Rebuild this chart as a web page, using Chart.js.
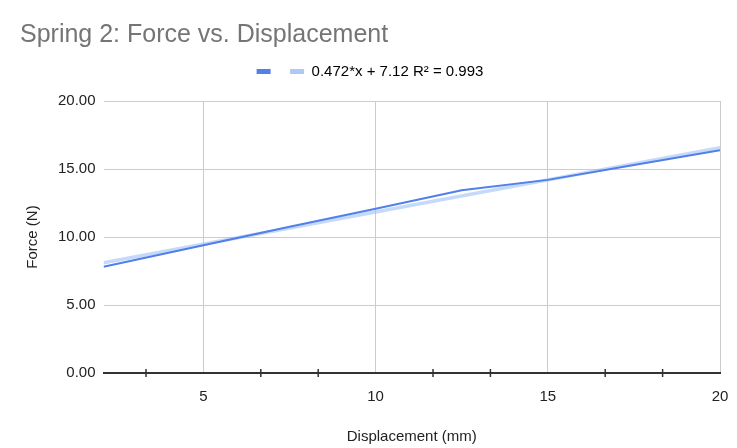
<!DOCTYPE html>
<html>
<head>
<meta charset="utf-8">
<script src="https://cdn.jsdelivr.net/npm/chart.js@4.4.1/dist/chart.umd.min.js"></script>
<style>
  html, body { margin: 0; padding: 0; background: #fff; }
  #wrap { width: 737px; height: 448px; }
</style>
</head>
<body>
<div id="wrap"><canvas id="chart" width="737" height="448"></canvas></div>
<script>
// valores
const displacement = [2.1, 5, 7.5, 10, 12.5, 15, 17.5, 20];
const force = [7.82, 9.4, 10.75, 12.08, 13.43, 14.2, 15.3, 16.38];

// linha de tendencia (extremos)
const trendX = [2.1, 20];
const trendY = [8.11, 16.56];
const trendLabel = '0.472*x + 7.12 R\u00b2 = 0.993';

const xTicks = [5, 10, 15, 20];
const yTicks = [0, 5, 10, 15, 20];

const FONT = 'Arial, "Liberation Sans", sans-serif';
const dataColor = '#5080e8';
const trendColor = 'rgba(150,185,245,0.55)';

const toPoints = (xs, ys) => xs.map((x, i) => ({ x: x, y: ys[i] }));

// pequenos tracos no eixo x entre os valores principais
const minorTicks = {
  id: 'minorTicks',
  afterDraw(chart) {
    const xs = chart.scales.x;
    const y = chart.scales.y.getPixelForValue(0);
    const ctx = chart.ctx;
    ctx.save();
    ctx.strokeStyle = '#333';
    ctx.lineWidth = 1.5;
    for (let k = 2; k <= 11; k++) {
      if (k % 3 === 0) continue;
      const px = xs.getPixelForValue(k * 5 / 3);
      ctx.beginPath();
      ctx.moveTo(px, y - 4);
      ctx.lineTo(px, y + 4);
      ctx.stroke();
    }
    ctx.restore();
  }
};

// espaco extra abaixo da legenda
const legendGap = {
  id: 'legendGap',
  beforeUpdate(chart) {
    const lg = chart.legend;
    if (lg && !lg._gapPatched) {
      const fit = lg.fit;
      lg.fit = function () {
        fit.call(this);
        this.height += 12;
      };
      lg._gapPatched = true;
    }
  }
};

new Chart(document.getElementById('chart'), {
  type: 'line',
  data: {
    datasets: [
      {
        label: '',
        data: toPoints(displacement, force),
        borderColor: dataColor,
        backgroundColor: dataColor,
        borderWidth: 2,
        pointRadius: 0,
        tension: 0
      },
      {
        label: trendLabel,
        data: toPoints(trendX, trendY),
        borderColor: trendColor,
        backgroundColor: 'rgba(175,200,248,1)',
        borderWidth: 3.5,
        pointRadius: 0,
        tension: 0
      }
    ]
  },
  options: {
    responsive: false,
    animation: false,
    layout: { padding: { left: 20, right: 17, top: 20, bottom: 2 } },
    plugins: {
      tooltip: { enabled: false },
      title: {
        display: true,
        text: 'Spring 2: Force vs. Displacement',
        align: 'start',
        color: '#757575',
        font: { family: FONT, size: 25, weight: 'normal' },
        padding: { top: 0, bottom: 2 }
      },
      legend: {
        display: true,
        labels: {
          color: '#222',
          font: { family: FONT, size: 15 },
          boxWidth: 14,
          boxHeight: 5,
          padding: 12,
          generateLabels(chart) {
            return chart.data.datasets.map((ds, i) => ({
              text: ds.label,
              fillStyle: ds.backgroundColor,
              strokeStyle: ds.backgroundColor,
              lineWidth: 0,
              datasetIndex: i
            }));
          }
        }
      }
    },
    scales: {
      x: {
        type: 'linear',
        min: 2.1,
        max: 20,
        afterBuildTicks(scale) { scale.ticks = xTicks.map(v => ({ value: v })); },
        afterFit(scale) { scale.paddingRight = 9; },
        grid: { color: '#cccccc', drawTicks: false },
        border: { display: true, color: '#333', width: 2 },
        ticks: { color: '#222', font: { family: FONT, size: 15 }, padding: 15 },
        title: {
          display: true,
          text: 'Displacement (mm)',
          color: '#222',
          font: { family: FONT, size: 15 },
          padding: { top: 7, bottom: 0 }
        }
      },
      y: {
        min: 0,
        max: 20,
        afterBuildTicks(scale) { scale.ticks = yTicks.map(v => ({ value: v })); },
        grid: { color: '#cccccc', drawTicks: false },
        border: { display: false },
        ticks: {
          color: '#222',
          font: { family: FONT, size: 15 },
          padding: 8,
          callback: v => Number(v).toFixed(2)
        },
        title: {
          display: true,
          text: 'Force (N)',
          color: '#222',
          font: { family: FONT, size: 15 },
          padding: { top: 4, bottom: 8 }
        }
      }
    }
  },
  plugins: [minorTicks, legendGap]
});
</script>
</body>
</html>
